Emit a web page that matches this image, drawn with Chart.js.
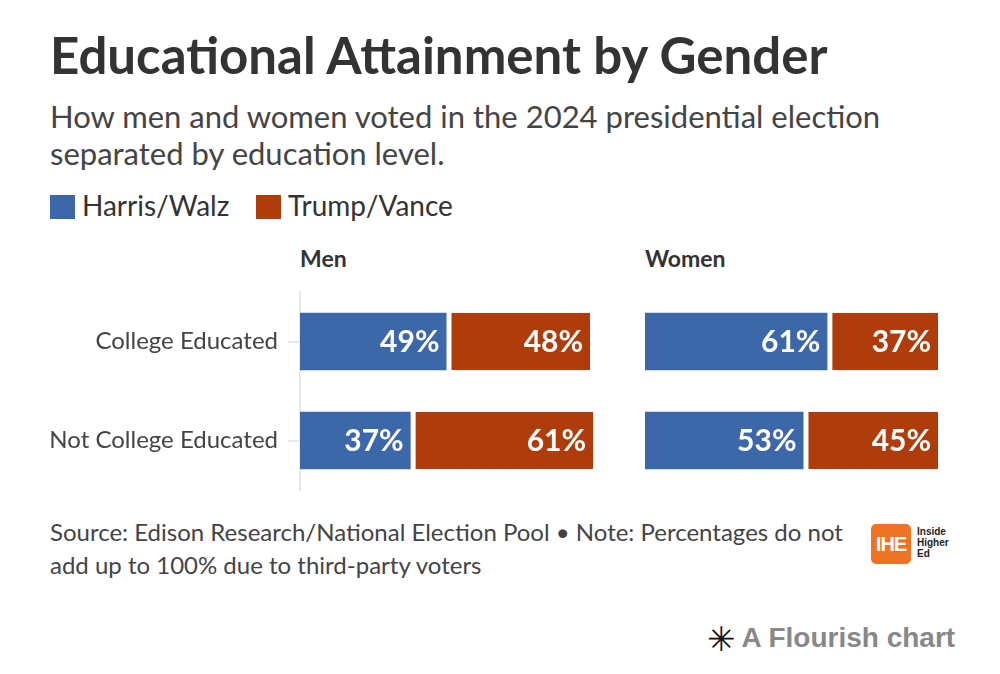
<!DOCTYPE html>
<html>
<head>
<meta charset="utf-8">
<script src="https://cdn.jsdelivr.net/npm/chart.js@4.4.1/dist/chart.umd.min.js"></script>
<style>
  html, body { margin: 0; padding: 0; background: #fff; }
  body { width: 1000px; height: 674px; position: relative; overflow: hidden; font-family: Lato, "Open Sans", sans-serif; color: #333; }
  .abs { position: absolute; white-space: nowrap; }
  #title { left: 50px; top: 24px; font-size: 51px; font-weight: bold; color: #333; }
  #subtitle { left: 50px; top: 98px; font-size: 31px; line-height: 37px; color: #444; white-space: normal; width: 900px; }
  .legend { top: 189px; font-size: 28px; color: #333; line-height: 32px; }
  .legend span.sw { display: inline-block; width: 25px; height: 24px; vertical-align: -3px; margin-right: 7px; }
  .panel { top: 244px; font-size: 23px; font-weight: bold; color: #333; }
  #footer { left: 50px; top: 515px; width: 810px; font-size: 24px; line-height: 33px; color: #444; white-space: normal; }
  #logo { left: 871px; top: 524px; width: 40px; height: 40px; background: #ee7423; border-radius: 5px; color: #fff; font: bold 20px "Liberation Sans Narrow", "Liberation Sans", sans-serif; text-align: center; line-height: 40px; letter-spacing: -1px; }
  #logoText { left: 917px; top: 526px; font: bold 10px "Liberation Sans", Arial, sans-serif; line-height: 11px; color: #222; }
  #flourish { left: 707px; top: 619px; font: bold 28px "Liberation Sans", Arial, sans-serif; color: #888; }
  #flourish b { color: #111; font: bold 34px "DejaVu Sans", sans-serif; vertical-align: -4px; margin-right: 6px; }
  canvas { position: absolute; }
</style>
</head>
<body>
<div id="title" class="abs">Educational Attainment by Gender</div>
<div id="subtitle" class="abs">How men and women voted in the 2024 presidential election separated by education level.</div>
<div class="abs legend" style="left:50px"><span class="sw" style="background:#3c67a9"></span>Harris/Walz</div>
<div class="abs legend" style="left:256px"><span class="sw" style="background:#ae3d0b"></span>Trump/Vance</div>
<div class="abs panel" style="left:300px">Men</div>
<div class="abs panel" style="left:645px">Women</div>

<div style="position:absolute;left:0;top:280px;width:620px;height:220px"><canvas id="menChart"></canvas></div>
<div style="position:absolute;left:620px;top:280px;width:380px;height:220px"><canvas id="womenChart"></canvas></div>

<div id="footer" class="abs">Source: Edison Research/National Election Pool • Note: Percentages do not add up to 100% due to third-party voters</div>
<div id="logo" class="abs">IHE</div>
<div id="logoText" class="abs">Inside<br>Higher<br>Ed</div>
<div id="flourish" class="abs"><b>✳</b>A Flourish chart</div>

<script>
var categories = ["College Educated", "Not College Educated"];
var seriesNames = ["Harris/Walz", "Trump/Vance"];
var menHarris = [49, 37];
var menTrump = [48, 61];
var womenHarris = [61, 53];
var womenTrump = [37, 45];
var blue = "#3c67a9";
var orange = "#ae3d0b";

// white % labels drawn right-aligned inside each bar
var barLabels = {
  id: "barLabels",
  afterDatasetsDraw: function (chart) {
    var ctx = chart.ctx;
    ctx.save();
    ctx.fillStyle = "#fff";
    ctx.font = "bold 30px Lato, sans-serif";
    ctx.textAlign = "right";
    ctx.textBaseline = "middle";
    chart.data.datasets.forEach(function (ds, i) {
      chart.getDatasetMeta(i).data.forEach(function (bar, j) {
        ctx.fillText(ds.data[j] + "%", bar.x - 7, bar.y + 1);
      });
    });
    ctx.restore();
  }
};

function makeChart(id, harris, trump, showAxis, padding) {
  return new Chart(document.getElementById(id), {
    type: "bar",
    data: {
      labels: categories,
      datasets: [
        { label: seriesNames[0], data: harris, backgroundColor: blue, borderWidth: 0 },
        { label: seriesNames[1], data: trump, backgroundColor: orange,
          borderColor: "#fff", borderWidth: { left: 5, right: 0, top: 0, bottom: 0 }, borderSkipped: false }
      ]
    },
    options: {
      indexAxis: "y",
      responsive: true,
      maintainAspectRatio: false,
      animation: false,
      events: [],
      layout: { padding: padding },
      datasets: { bar: { categoryPercentage: 1, barPercentage: 0.58 } },
      plugins: { legend: { display: false }, tooltip: { enabled: false } },
      scales: {
        x: { stacked: true, min: 0, max: 100, display: false },
        y: {
          stacked: true,
          display: showAxis,
          afterFit: function (scale) {
            if (!showAxis) return;
            scale.width = 300;
            scale.paddingTop = 0;
            scale.paddingBottom = 0;
          },
          border: { display: true, color: "#e8e8e8", width: 2 },
          grid: { display: true, offset: false, drawOnChartArea: false, drawTicks: true, tickLength: 12, color: "#e8e8e8", lineWidth: 2 },
          ticks: { color: "#444", padding: 10, font: { family: "Lato", size: 24 } }
        }
      }
    },
    plugins: [barLabels]
  });
}

makeChart("menChart", menHarris, menTrump, true, { left: 0, right: 21, top: 12, bottom: 10 });
makeChart("womenChart", womenHarris, womenTrump, false, { left: 25, right: 56, top: 12, bottom: 10 });
</script>
</body>
</html>
